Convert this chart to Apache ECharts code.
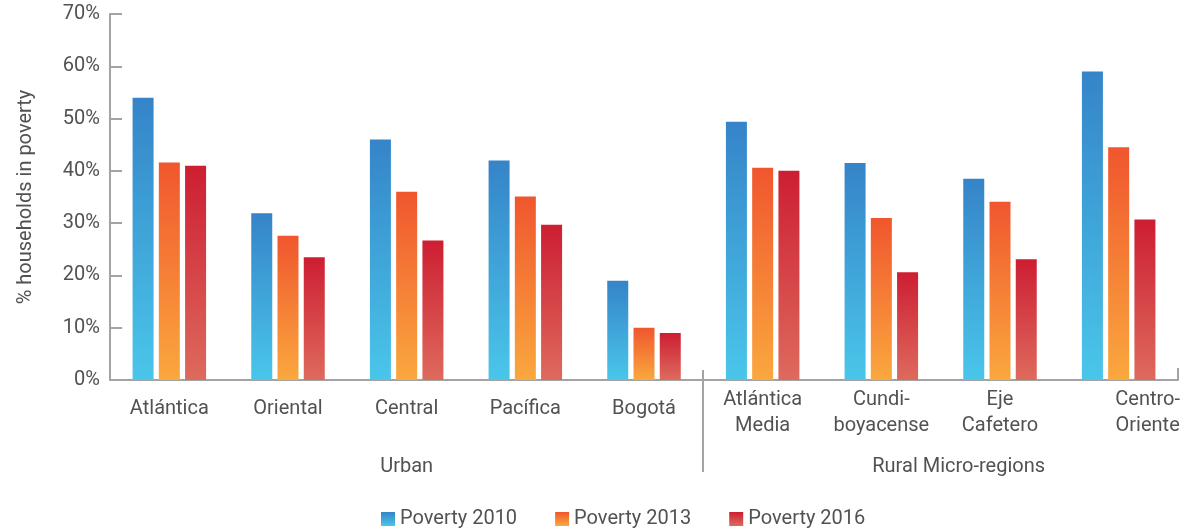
<!DOCTYPE html>
<html>
<head>
<meta charset="utf-8">
<script src="https://cdn.jsdelivr.net/npm/echarts@6/dist/echarts.min.js"></script>
<style>
  html, body { margin: 0; padding: 0; background: #fff; }
  #container { width: 1185px; height: 531px; }
</style>
</head>
<body>
<div id="container"></div>
<script>
let dom = document.getElementById("container");
let myChart = echarts.init(dom);

// categories: 5 urban + 4 rural micro-regions
const categories = ['Atlántica', 'Oriental', 'Central', 'Pacífica', 'Bogotá',
    'Atlántica\nMedia', 'Cundi-\nboyacense', 'Eje\nCafetero', 'Centro-\nOriente'];
const groupNames = ['Urban', 'Rural Micro-regions'];
const urbanCount = 5;

const poverty2010 = [54.0, 31.9, 46.0, 42.0, 19.0, 49.4, 41.5, 38.5, 59.0];
const poverty2013 = [41.6, 27.6, 36.0, 35.1, 10.0, 40.6, 31.0, 34.1, 44.5];
const poverty2016 = [41.0, 23.5, 26.7, 29.7, 9.0, 40.0, 20.6, 23.1, 30.7];

const yTicks = {min: 0, max: 70, interval: 10};

const textColor = '#525252';
const axisColor = '#a3a3a3';
const fontFamily = 'Roboto, "Noto Sans", sans-serif';
const fontSize = 20;

function grad(top, bottom) {
    return new echarts.graphic.LinearGradient(0, 0, 0, 1, [
        {offset: 0, color: top},
        {offset: 1, color: bottom}
    ]);
}

const seriesStyle = [
    {name: 'Poverty 2010', data: poverty2010, color: grad('#3584c8', '#4ac6ea')},
    {name: 'Poverty 2013', data: poverty2013, color: grad('#f0562e', '#faa83e')},
    {name: 'Poverty 2016', data: poverty2016, color: grad('#cd1e32', '#de6a5d')}
];

let categoryData = categories.map(function (c, i) {
    if (i === categories.length - 1) {
        return {value: c, textStyle: {padding: [0, 0, 0, 58]}};
    }
    if (i < urbanCount) {
        return {value: c, textStyle: {padding: [9, 0, 0, 0]}};
    }
    return c;
});

let option = {
    animation: false,
    grid: {left: 110, right: 7, top: 14, bottom: 151, containLabel: false},
    legend: {
        bottom: -3,
        left: 376,
        itemWidth: 14,
        itemHeight: 14,
        itemGap: 38,
        icon: 'rect',
        textStyle: {fontSize: fontSize, color: textColor, fontFamily: fontFamily},
        data: seriesStyle.map(s => s.name)
    },
    xAxis: {
        type: 'category',
        data: categoryData,
        axisLine: {lineStyle: {color: axisColor, width: 2}},
        axisTick: {
            show: true,
            inside: true,
            length: 12,
            interval: function (index) { return index === 0; },
            lineStyle: {color: axisColor, width: 2}
        },
        axisLabel: {
            interval: 0,
            margin: 7,
            fontSize: fontSize,
            lineHeight: 26,
            color: textColor,
            fontFamily: fontFamily
        }
    },
    yAxis: {
        type: 'value',
        min: yTicks.min,
        max: yTicks.max,
        interval: yTicks.interval,
        name: '% households in poverty',
        nameLocation: 'middle',
        nameGap: 74,
        nameTextStyle: {fontSize: fontSize, color: textColor, fontFamily: fontFamily},
        axisLine: {show: true, lineStyle: {color: axisColor, width: 2}},
        axisTick: {show: true, inside: true, length: 12, lineStyle: {color: axisColor, width: 2}},
        splitLine: {show: false},
        axisLabel: {
            formatter: '{value}%',
            margin: 10,
            fontSize: fontSize,
            color: textColor,
            fontFamily: fontFamily
        }
    },
    series: seriesStyle.map(function (s) {
        return {
            name: s.name,
            type: 'bar',
            data: s.data,
            barWidth: 21,
            barGap: '25%',
            itemStyle: {color: s.color}
        };
    })
};

myChart.setOption(option, true);

// separator between groups and group titles, placed from the axis scales
function drawGroups() {
    let xa = myChart.convertToPixel({xAxisIndex: 0}, categories[urbanCount - 1]);
    let xb = myChart.convertToPixel({xAxisIndex: 0}, categories[urbanCount]);
    let sepX = Math.round((xa + xb) / 2);
    let y0 = myChart.convertToPixel({yAxisIndex: 0}, 0);
    let xFirst = myChart.convertToPixel({xAxisIndex: 0}, categories[0]);
    let xLast = myChart.convertToPixel({xAxisIndex: 0}, categories[categories.length - 1]);
    myChart.setOption({
        graphic: [
            {
                type: 'line',
                shape: {x1: sepX, y1: y0 - 10, x2: sepX, y2: y0 + 92},
                style: {stroke: axisColor, lineWidth: 2}
            },
            {
                type: 'text',
                x: (xFirst + xa) / 2,
                y: y0 + 87,
                style: {
                    text: groupNames[0], fill: textColor, fontSize: fontSize,
                    fontFamily: fontFamily, align: 'center', verticalAlign: 'middle'
                }
            },
            {
                type: 'text',
                x: (xb + xLast) / 2 + 18,
                y: y0 + 87,
                style: {
                    text: groupNames[1], fill: textColor, fontSize: fontSize,
                    fontFamily: fontFamily, align: 'center', verticalAlign: 'middle'
                }
            }
        ]
    });
}
drawGroups();
</script>
</body>
</html>
